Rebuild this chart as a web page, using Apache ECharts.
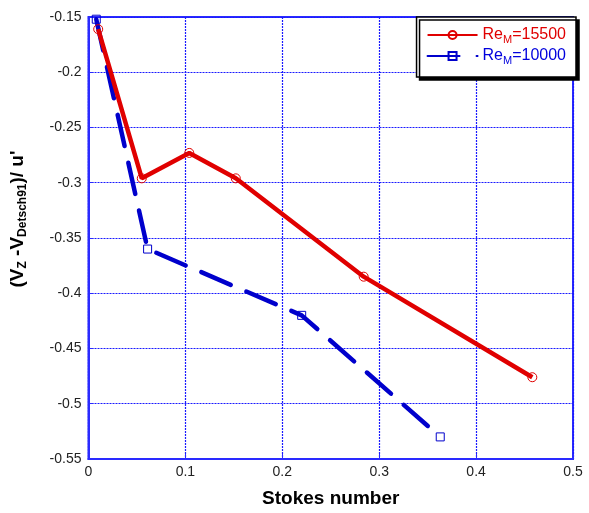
<!DOCTYPE html>
<html>
<head>
<meta charset="utf-8">
<script src="https://cdn.jsdelivr.net/npm/echarts@6/dist/echarts.min.js"></script>
<style>html,body{margin:0;padding:0;background:#fff}#c{width:589px;height:513px}</style>
</head>
<body>
<div id="c"></div>
<script>
const stokes15500 = [0.010, 0.055, 0.104, 0.152, 0.284, 0.458];
const vel15500 = [-0.161, -0.296, -0.273, -0.296, -0.385, -0.476];
const stokes10000 = [0.008, 0.061, 0.220, 0.363];
const vel10000 = [-0.152, -0.360, -0.420, -0.530];
const xTicks = [0, 0.1, 0.2, 0.3, 0.4, 0.5];
const yTicks = [-0.55, -0.5, -0.45, -0.4, -0.35, -0.3, -0.25, -0.2, -0.15];
const seriesNames = ['Re_M=15500', 'Re_M=10000'];

const FONT = '"Liberation Sans", Arial, Helvetica, sans-serif';
const BLUE = '#2a2aff';
const chart = echarts.init(document.getElementById('c'), null, {renderer: 'canvas'});
const zip = (a, b) => a.map((v, i) => [v, b[i]]);

function axisBits(margin) {
  return {
    axisLine: {show: true, onZero: false, lineStyle: {color: BLUE, width: 2}},
    axisTick: {show: true, inside: true, length: 5, lineStyle: {color: BLUE, width: 1}},
    splitLine: {show: true, lineStyle: {color: '#1a1aff', width: 1.2, type: [2, 1]}},
    axisLabel: {color: '#222', fontSize: 14, fontFamily: FONT, margin: margin}
  };
}

chart.setOption({
  animation: false,
  backgroundColor: '#fff',
  grid: {left: 87, right: 16, top: 17, bottom: 38, show: true, borderColor: BLUE, borderWidth: 2},
  xAxis: Object.assign(axisBits(6), {
    type: 'value', min: xTicks[0], max: xTicks[xTicks.length - 1], interval: 0.1,
    name: 'Stokes number', nameLocation: 'middle', nameGap: 30,
    nameTextStyle: {fontSize: 19, fontWeight: 'bold', color: '#000', fontFamily: FONT}
  }),
  yAxis: Object.assign(axisBits(7), {
    type: 'value', min: yTicks[0], max: yTicks[yTicks.length - 1], interval: 0.05,
    name: '{b|(V}{s|Z}{b| -V}{s|Detsch91}{b|)/ u\'}', nameLocation: 'middle', nameGap: 60, nameRotate: 90,
    nameTextStyle: {
      color: '#000', fontFamily: FONT, padding: [0, 0, 0, 38],
      rich: {
        b: {fontSize: 19, fontWeight: 'bold', color: '#000', fontFamily: FONT},
        s: {fontSize: 12, fontWeight: 'bold', color: '#000', fontFamily: FONT, padding: [10, 0, 0, 0]}
      }
    }
  }),
  legend: {
    orient: 'vertical', right: 13, top: 17,
    backgroundColor: '#fff', borderColor: '#000', borderWidth: 1.5,
    shadowColor: '#000', shadowOffsetX: 3, shadowOffsetY: 3, shadowBlur: 0,
    padding: [10, 10, 11, 10], itemGap: 3, itemWidth: 50, itemHeight: 10,
    data: seriesNames,
    formatter: function (name) {
      const p = name.split('_M');
      const k = name === seriesNames[0] ? 'r' : 'u';
      return '{' + k + '|' + p[0] + '}{' + k + 's|M}{' + k + '|' + p[1] + '}';
    },
    textStyle: {
      fontFamily: FONT, fontSize: 16,
      rich: {
        r: {fontSize: 16, color: '#e00000', fontFamily: FONT},
        rs: {fontSize: 11, color: '#e00000', fontFamily: FONT, padding: [9, 0, 0, 0]},
        u: {fontSize: 16, color: '#0000dd', fontFamily: FONT},
        us: {fontSize: 11, color: '#0000dd', fontFamily: FONT, padding: [9, 0, 0, 0]}
      }
    }
  },
  series: [
    {
      name: seriesNames[0], type: 'line', data: zip(stokes15500, vel15500),
      symbol: 'circle', symbolSize: 9, showAllSymbol: true, z: 3,
      lineStyle: {color: '#e00000', width: 4.5},
      itemStyle: {color: 'rgba(255,255,255,0)', borderColor: '#e00000', borderWidth: 1}
    },
    {
      name: seriesNames[1], type: 'line', data: zip(stokes10000, vel10000),
      symbol: 'rect', symbolSize: 8, showAllSymbol: true, z: 2,
      lineStyle: {color: '#0000cc', width: 4.5, type: [32, 17], cap: 'round'},
      itemStyle: {color: 'rgba(255,255,255,0)', borderColor: '#0000cc', borderWidth: 1}
    }
  ]
});
</script>
</body>
</html>
